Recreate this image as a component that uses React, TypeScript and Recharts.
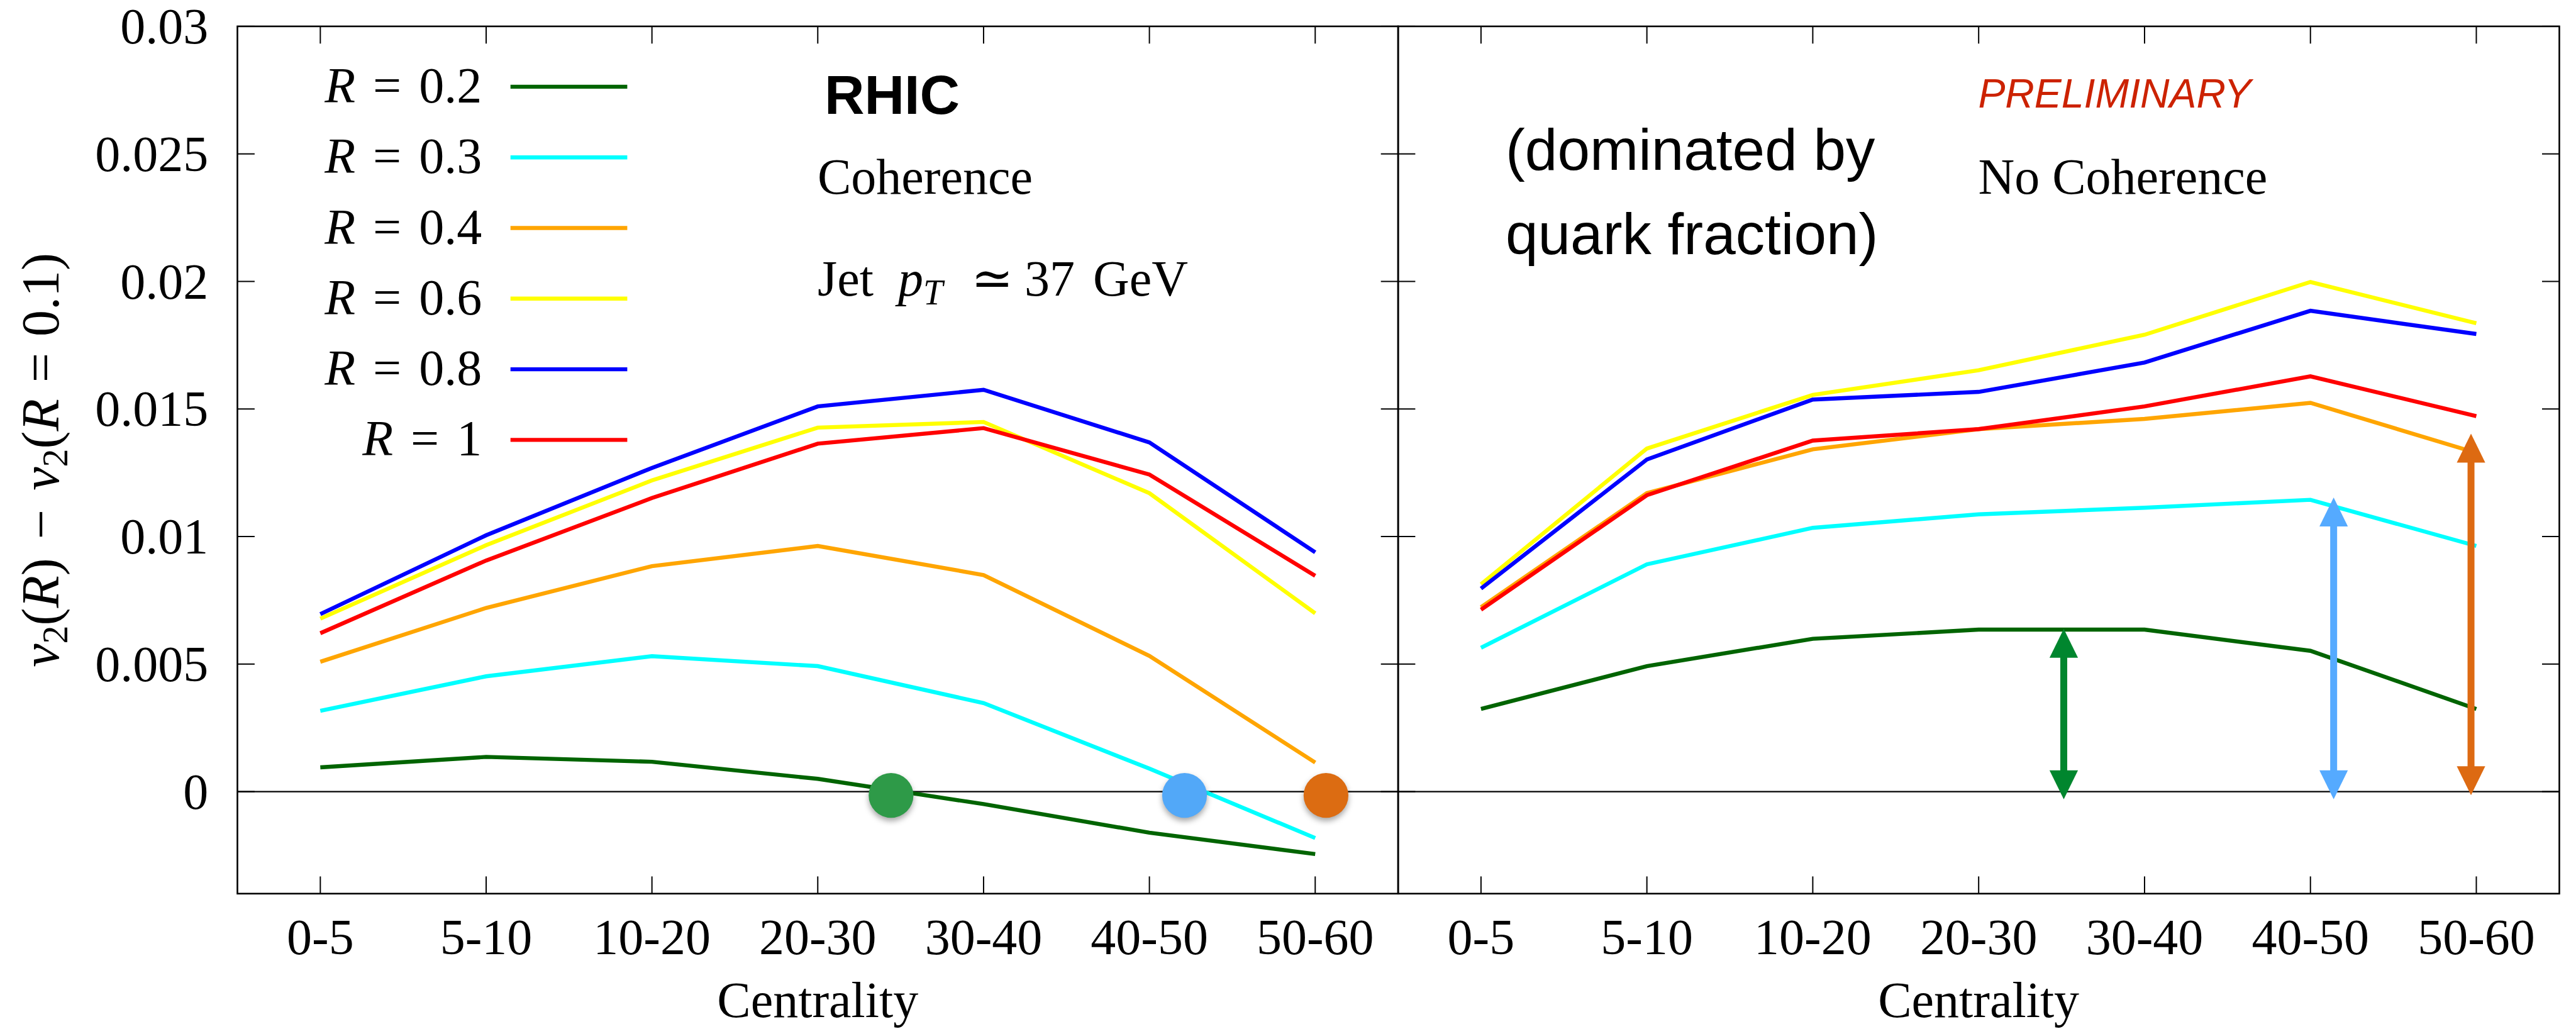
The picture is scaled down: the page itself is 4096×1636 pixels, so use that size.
import React from "react";
import { LineChart, Line, XAxis, YAxis, ReferenceLine, ReferenceDot } from "recharts";

// centrality classes on the x axis
const centralityBins = ["0-5", "5-10", "10-20", "20-30", "30-40", "40-50", "50-60"];

// jet radii, one curve each
const radii = ["0.2", "0.3", "0.4", "0.6", "0.8", "1"];
const radiusKeys = ["r02", "r03", "r04", "r06", "r08", "r1"];
const radiusColors = ["#006400", "#00ffff", "#ffa500", "#ffff00", "#0000ff", "#ff0000"];

// v2(R) - v2(R=0.1), coherence
const cohR02 = [0.00095, 0.00136, 0.00117, 0.0005, -0.00049, -0.00161, -0.00245];
const cohR03 = [0.00317, 0.00452, 0.00531, 0.00492, 0.00347, 0.0009, -0.00182];
const cohR04 = [0.00509, 0.0072, 0.00884, 0.00963, 0.00849, 0.00532, 0.00114];
const cohR06 = [0.00678, 0.00966, 0.0122, 0.01427, 0.01449, 0.0117, 0.00699];
const cohR08 = [0.00696, 0.01005, 0.01269, 0.0151, 0.01575, 0.01369, 0.00938];
const cohR1 = [0.00621, 0.00906, 0.01151, 0.01364, 0.01425, 0.01243, 0.00846];

// v2(R) - v2(R=0.1), no coherence
const noCohR02 = [0.00324, 0.00492, 0.00599, 0.00635, 0.00635, 0.00552, 0.00324];
const noCohR03 = [0.00564, 0.00891, 0.01034, 0.01087, 0.01113, 0.01144, 0.00963];
const noCohR04 = [0.00723, 0.0117, 0.01342, 0.01421, 0.01461, 0.01524, 0.01328];
const noCohR06 = [0.00813, 0.01345, 0.01555, 0.01652, 0.01791, 0.01998, 0.01836];
const noCohR08 = [0.00796, 0.01302, 0.01537, 0.01567, 0.01682, 0.01885, 0.01794];
const noCohR1 = [0.00713, 0.01162, 0.01376, 0.01421, 0.0151, 0.01628, 0.01472];

const yTicks = [0, 0.005, 0.01, 0.015, 0.02, 0.025, 0.03];
const yDomain = [-0.004, 0.03];

// sign-change markers on the zero line (coherence panel)
const crossingPos = [3.442, 5.212, 6.065];
const crossingVal = [-0.00015, -0.00015, -0.00015];
const crossingColors = ["#2e9a48", "#52a8f8", "#dc6c12"];

// double arrows from zero up to a curve (no coherence panel)
const arrowPos = [3.513, 5.14, 5.968];
const arrowLow = [-0.0003, -0.0003, -0.00014];
const arrowHigh = [0.00638, 0.01153, 0.01403];
const arrowColors = ["#00862e", "#55aaff", "#dd6a12"];

const SERIF = "'Liberation Serif', 'DejaVu Serif', serif";
const SANS = "'Liberation Sans', Arimo, Helvetica, sans-serif";

const PAGE_W = 4096;
const PAGE_H = 1636;
const PLOT_TOP = 41.9;
const PLOT_H = 1378.9;
const AXIS_BAND = PAGE_H - PLOT_TOP - PLOT_H;
const LEFT_X = 377.5;
const MID_X = 2223.1;
const RIGHT_X = 4069.5;
const LEFT_W = MID_X - LEFT_X;
const RIGHT_W = RIGHT_X - MID_X;
const TICK = 27.4;
const FONT = 80;

function buildRows(values: number[][]) {
  return centralityBins.map((bin, i) => {
    const row: Record<string, number | string> = { pos: i, bin };
    values.forEach((v, k) => {
      row[radiusKeys[k]] = v[i];
    });
    return row;
  });
}

const cohRows = buildRows([cohR02, cohR03, cohR04, cohR06, cohR08, cohR1]);
const noCohRows = buildRows([noCohR02, noCohR03, noCohR04, noCohR06, noCohR08, noCohR1]);

function XTick(props: any) {
  const { x, y, payload } = props;
  return (
    <g>
      <line x1={x} x2={x} y1={y} y2={y - TICK} stroke="#000" strokeWidth={2} />
      <line x1={x} x2={x} y1={y - PLOT_H} y2={y - PLOT_H + TICK} stroke="#000" strokeWidth={2} />
      <text x={x} y={y + 96.2} textAnchor="middle" fontFamily={SERIF} fontSize={FONT} fill="#000">
        {centralityBins[payload.value]}
      </text>
    </g>
  );
}

function YTick(props: any) {
  const { x, y, payload, panelW, labels } = props;
  return (
    <g>
      <line x1={x} x2={x + TICK} y1={y} y2={y} stroke="#000" strokeWidth={2} />
      <line x1={x + panelW} x2={x + panelW - TICK} y1={y} y2={y} stroke="#000" strokeWidth={2} />
      {labels && (
        <text x={x - 46.3} y={y} dy="0.34em" textAnchor="end" fontFamily={SERIF} fontSize={FONT} fill="#000">
          {String(payload.value)}
        </text>
      )}
    </g>
  );
}

function YTitle(props: any) {
  const vb = props.viewBox || { x: 0, y: PLOT_TOP, width: LEFT_X, height: PLOT_H };
  const bx = vb.x + 92.7;
  const cy = vb.y + vb.height / 2;
  const f = 84;
  const sub = 58;
  return (
    <text
      x={bx}
      y={cy}
      transform={`rotate(-90 ${bx} ${cy})`}
      textAnchor="middle"
      fontFamily={SERIF}
      fontSize={f}
      fill="#000"
    >
      <tspan fontStyle="italic">v</tspan>
      <tspan fontSize={sub} dy={14}>2</tspan>
      <tspan dy={-14}>(</tspan>
      <tspan fontStyle="italic">R</tspan>
      <tspan>)</tspan>
      <tspan dx={30}>−</tspan>
      <tspan dx={30} fontStyle="italic">v</tspan>
      <tspan fontSize={sub} dy={14}>2</tspan>
      <tspan dy={-14}>(</tspan>
      <tspan fontStyle="italic">R</tspan>
      <tspan dx={26}>=</tspan>
      <tspan dx={26}>0.1)</tspan>
    </text>
  );
}

function DoubleArrow(props: any) {
  const { x1, y1, y2, color } = props;
  const top = Math.min(y1, y2);
  const bottom = Math.max(y1, y2);
  const hw = 22.6;
  const hh = 46;
  return (
    <g>
      <line x1={x1} x2={x1} y1={top + hh - 2} y2={bottom - hh + 2} stroke={color} strokeWidth={11} />
      <polygon points={`${x1},${top} ${x1 - hw},${top + hh} ${x1 + hw},${top + hh}`} fill={color} />
      <polygon points={`${x1},${bottom} ${x1 - hw},${bottom - hh} ${x1 + hw},${bottom - hh}`} fill={color} />
    </g>
  );
}

function Marker(props: any) {
  const { cx, cy, r, color } = props;
  return (
    <circle
      cx={cx}
      cy={cy}
      r={r}
      fill={color}
      style={{ filter: "drop-shadow(0px 5px 5px rgba(0,0,0,0.35))" }}
    />
  );
}

function renderLines() {
  return radiusKeys.map((k, i) => (
    <Line
      key={k}
      type="linear"
      dataKey={k}
      name={`R = ${radii[i]}`}
      stroke={radiusColors[i]}
      strokeWidth={6.4}
      dot={false}
      activeDot={false}
      isAnimationActive={false}
    />
  ));
}

const centralityLabel = {
  value: "Centrality",
  position: "insideBottom" as const,
  offset: 19,
  fontFamily: SERIF,
  fontSize: FONT,
  fill: "#000",
};

function CoherencePanel() {
  return (
    <LineChart
      width={LEFT_X + LEFT_W + 20}
      height={PAGE_H}
      data={cohRows}
      margin={{ top: PLOT_TOP, right: 20, bottom: 0, left: 0 }}
    >
      <XAxis
        dataKey="pos"
        type="number"
        domain={[-0.5, 6.5]}
        ticks={[0, 1, 2, 3, 4, 5, 6]}
        interval={0}
        height={AXIS_BAND}
        axisLine={false}
        tickLine={false}
        tickSize={0}
        tickMargin={0}
        tick={(p: any) => <XTick {...p} />}
        label={centralityLabel}
      />
      <YAxis
        type="number"
        domain={yDomain}
        ticks={yTicks}
        interval={0}
        width={LEFT_X}
        axisLine={false}
        tickLine={false}
        tickSize={0}
        tickMargin={0}
        tick={(p: any) => <YTick {...p} panelW={LEFT_W} labels />}
        label={{ content: (p: any) => <YTitle {...p} /> }}
      />
      <ReferenceLine y={0} stroke="#000" strokeWidth={2.2} />
      {renderLines()}
      {crossingPos.map((x, i) => (
        <ReferenceDot
          key={`m${i}`}
          x={x}
          y={crossingVal[i]}
          r={35.6}
          fill={crossingColors[i]}
          stroke="none"
          shape={(p: any) => <Marker {...p} color={crossingColors[i]} />}
        />
      ))}
    </LineChart>
  );
}

function NoCoherencePanel() {
  return (
    <LineChart
      width={100 + RIGHT_W + 20}
      height={PAGE_H}
      data={noCohRows}
      margin={{ top: PLOT_TOP, right: 20, bottom: 0, left: 0 }}
    >
      <XAxis
        dataKey="pos"
        type="number"
        domain={[-0.5, 6.5]}
        ticks={[0, 1, 2, 3, 4, 5, 6]}
        interval={0}
        height={AXIS_BAND}
        axisLine={false}
        tickLine={false}
        tickSize={0}
        tickMargin={0}
        tick={(p: any) => <XTick {...p} />}
        label={centralityLabel}
      />
      <YAxis
        type="number"
        domain={yDomain}
        ticks={yTicks}
        interval={0}
        width={100}
        axisLine={false}
        tickLine={false}
        tickSize={0}
        tickMargin={0}
        tick={(p: any) => <YTick {...p} panelW={RIGHT_W} labels={false} />}
      />
      <ReferenceLine y={0} stroke="#000" strokeWidth={2.2} />
      {renderLines()}
      {arrowPos.map((x, i) => (
        <ReferenceLine
          key={`a${i}`}
          segment={[
            { x, y: arrowLow[i] },
            { x, y: arrowHigh[i] },
          ]}
          stroke={arrowColors[i]}
          shape={(p: any) => <DoubleArrow {...p} color={arrowColors[i]} />}
        />
      ))}
    </LineChart>
  );
}

function Annotations() {
  const legendTop = 137.9;
  const legendStep = 112.3;
  return (
    <svg
      width={PAGE_W}
      height={PAGE_H}
      style={{ position: "absolute", left: 0, top: 0, pointerEvents: "none" }}
    >
      {/* panel frames */}
      <rect x={LEFT_X} y={PLOT_TOP} width={LEFT_W} height={PLOT_H} fill="none" stroke="#000" strokeWidth={2.6} />
      <rect x={MID_X} y={PLOT_TOP} width={RIGHT_W} height={PLOT_H} fill="none" stroke="#000" strokeWidth={2.6} />

      {/* legend */}
      {radii.map((r, i) => {
        const cy = legendTop + i * legendStep;
        return (
          <g key={r}>
            <text x={766.2} y={cy + 25} textAnchor="end" fontFamily={SERIF} fontSize={FONT} fill="#000">
              <tspan fontStyle="italic">R</tspan>
              <tspan dx={28}>=</tspan>
              <tspan dx={28}>{r}</tspan>
            </text>
            <line x1={811.7} x2={997.4} y1={cy} y2={cy} stroke={radiusColors[i]} strokeWidth={6.4} />
          </g>
        );
      })}

      {/* coherence panel labels */}
      <text x={1311} y={181} fontFamily={SANS} fontWeight="bold" fontSize={88} fill="#000">
        RHIC
      </text>
      <text x={1300} y={307.9} fontFamily={SERIF} fontSize={FONT} fill="#000">
        Coherence
      </text>
      <text y={470.2} fontFamily={SERIF} fontSize={FONT} fill="#000">
        <tspan x={1300}>Jet</tspan>
        <tspan x={1428} fontStyle="italic">p</tspan>
        <tspan fontStyle="italic" fontSize={56} dy={14}>T</tspan>
        <tspan x={1544} dy={-14}>≃</tspan>
        <tspan x={1629}>37</tspan>
        <tspan x={1738}>GeV</tspan>
      </text>

      {/* no-coherence panel labels */}
      <text x={2394} y={269.9} fontFamily={SANS} fontSize={92.7} fill="#000">
        (dominated by
      </text>
      <text x={2394} y={403.9} fontFamily={SANS} fontSize={92.7} fill="#000">
        quark fraction)
      </text>
      <text x={3145.4} y={171.4} fontFamily={SANS} fontStyle="italic" fontSize={64.4} fill="#cc2200">
        PRELIMINARY
      </text>
      <text x={3145.4} y={307.9} fontFamily={SERIF} fontSize={FONT} fill="#000">
        No Coherence
      </text>
    </svg>
  );
}

export default function App() {
  return (
    <div
      style={{
        position: "absolute",
        left: 0,
        top: 0,
        width: PAGE_W,
        height: PAGE_H,
        background: "#fff",
        overflow: "hidden",
      }}
    >
      <div style={{ position: "absolute", left: 0, top: 0 }}>
        <CoherencePanel />
      </div>
      <div style={{ position: "absolute", left: MID_X - 100, top: 0 }}>
        <NoCoherencePanel />
      </div>
      <Annotations />
    </div>
  );
}
